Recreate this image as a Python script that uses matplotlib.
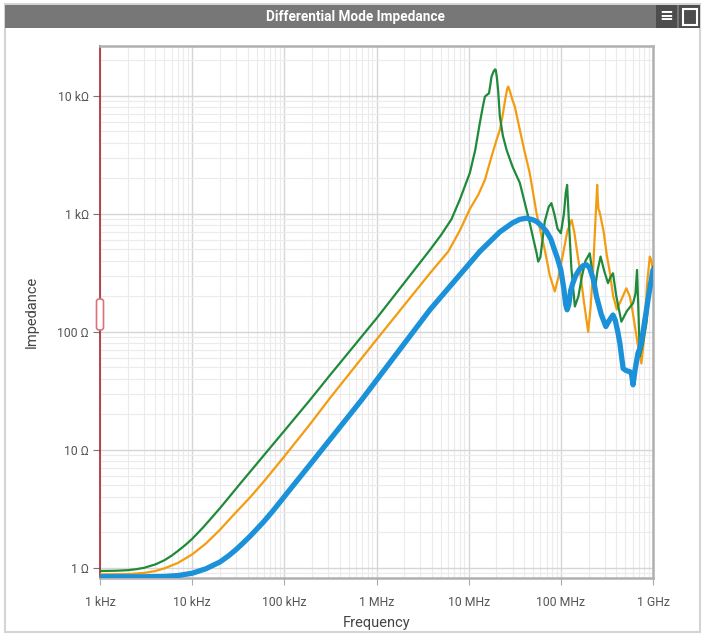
import matplotlib
matplotlib.use("Agg")
import matplotlib.pyplot as plt
from matplotlib.patches import Rectangle, FancyBboxPatch
from matplotlib.ticker import FixedLocator, LogLocator, NullFormatter

plt.rcParams["font.family"] = ["Roboto", "DejaVu Sans"]

title = "Differential Mode Impedance"
freq_ticks = [1e3, 1e4, 1e5, 1e6, 1e7, 1e8, 1e9]
freq_labels = ["1 kHz", "10 kHz", "100 kHz", "1 MHz", "10 MHz", "100 MHz", "1 GHz"]
imp_ticks = [1, 10, 100, 1000, 10000]
imp_labels = ["1 \u03a9", "10 \u03a9", "100 \u03a9", "1 k\u03a9", "10 k\u03a9"]

# values (Hz, ohm)
green_f = [1e3, 1.5e3, 2e3, 2.5e3, 3e3, 4e3, 5e3, 6e3, 7e3, 8.5e3, 1e4, 1.3e4, 1.6e4,
           2e4, 2.5e4, 3.2e4, 4.24e4, 6e4, 1e5, 1.9e5, 3.13e5, 1e6, 3.8e6, 5e6, 6.5e6,
           8e6, 10.3e6, 11.8e6, 13.2e6, 14.2e6, 15.0e6, 16.0e6, 16.6e6, 17.2e6, 17.7e6,
           18.7e6, 19.3e6, 19.7e6, 20.3e6, 20.9e6, 21.8e6, 23.5e6, 25.8e6, 30e6, 35.9e6,
           45e6, 54.5e6, 56.8e6, 60e6, 67e6, 74e6, 79e6, 85e6, 92e6, 100e6, 108e6,
           113e6, 117e6, 122e6, 130e6, 142e6, 155e6, 170e6, 185e6, 206e6, 220e6, 234e6,
           250e6, 270e6, 295e6, 325e6, 345e6, 368e6, 400e6, 454e6, 520e6, 607e6, 645e6,
           671e6, 695e6, 719e6, 780e6, 849e6, 920e6, 1e9]
green_z = [0.94, 0.945, 0.955, 0.975, 1.0, 1.07, 1.16, 1.27, 1.39, 1.57, 1.76, 2.18, 2.62,
           3.2, 3.95, 5.0, 6.5, 9.0, 14.5, 26.5, 43.0, 130, 495, 660, 900,
           1315, 2225, 3500, 5870, 8000, 9860, 10300, 10500, 12500, 14600,
           16200, 16800, 16600, 14000, 11000, 6680, 4600, 3480, 2500, 1832,
           900, 467, 394, 430, 867, 1150, 1233, 1000, 750, 686, 1000,
           1500, 1762, 900, 350, 164, 200, 300, 400, 464, 320, 227,
           330, 435, 330, 259, 290, 314, 200, 122, 150, 175, 210,
           335, 150, 62, 80, 119, 220, 357]

orange_f = [1e3, 2e3, 3e3, 4e3, 5e3, 7e3, 1e4, 1.4e4, 2e4, 2.8e4, 4.24e4, 6e4, 1e5,
            1.9e5, 3.13e5, 1e6, 3.8e6, 6e6, 8e6, 10.3e6, 12.7e6, 15e6, 17.7e6, 20e6,
            21.8e6, 23.5e6, 25e6, 26.2e6, 26.9e6, 28e6, 29.5e6, 31.7e6, 35.9e6, 40e6,
            46e6, 54.5e6, 60e6, 67e6, 76e6, 86e6, 95e6, 106e6, 118e6, 131e6, 140e6,
            150e6, 161e6, 178e6, 198e6, 210e6, 224e6, 236e6, 248e6, 252e6, 256e6,
            262e6, 270e6, 292e6, 315e6, 340e6, 370e6, 405e6, 450e6, 514e6, 560e6,
            600e6, 680e6, 749e6, 800e6, 860e6, 923e6, 960e6, 1e9]
orange_z = [0.88, 0.885, 0.905, 0.94, 0.99, 1.1, 1.3, 1.6, 2.1, 2.8, 3.95, 5.4, 8.8,
            16.5, 27.5, 86, 314, 480, 720, 1100, 1450, 1941, 3060, 4200,
            5150, 7000, 9500, 11500, 12000, 11000, 9500, 8110, 5150, 3500,
            2213, 1014, 720, 495, 300, 220, 300, 464, 720, 889, 700,
            480, 335, 180, 100, 160, 335, 800, 1762, 1300, 1100,
            1050, 950, 700, 450, 320, 200, 155, 185, 234, 200,
            150, 80, 54, 90, 250, 435, 400, 335]

blue_f = [1e3, 3e3, 5e3, 7e3, 1e4, 1.4e4, 2e4, 2.5e4, 3e4, 3.5e4, 4.24e4, 5e4, 6e4,
          7.5e4, 8.95e4, 1.2e5, 1.9e5, 6.89e5, 3.8e6, 13.2e6, 21.8e6, 30e6, 36e6,
          42.5e6, 50e6, 55e6, 62e6, 70e6, 78e6, 85e6, 92e6, 100e6, 108e6, 113e6,
          117e6, 122e6, 128e6, 135e6, 145e6, 160e6, 175e6, 190e6, 205e6, 225e6,
          244e6, 275e6, 308e6, 335e6, 368e6, 390e6, 415e6, 437e6, 474e6, 510e6,
          560e6, 585e6, 607e6, 640e6, 687e6, 719e6, 780e6, 849e6, 920e6, 1e9]
blue_z = [0.84, 0.84, 0.845, 0.86, 0.9, 0.98, 1.12, 1.27, 1.43, 1.6, 1.85, 2.12, 2.47,
          3.03, 3.6, 4.8, 7.5, 26.5, 154, 480, 704, 840, 900,
          920, 890, 860, 790, 708, 610, 500, 420, 335, 230, 170,
          154, 170, 225, 259, 300, 340, 365, 370, 350, 280,
          199, 140, 111, 125, 139, 125, 100, 80, 49, 47,
          46, 44, 35.6, 48, 66, 72, 100, 154, 230, 335]

fig = plt.figure(figsize=(7.05, 6.34), dpi=100)
W, H = 705.0, 634.0

# card frame and header
fig.add_artist(Rectangle((5 / W, 2 / H), 695 / W, 628 / H, transform=fig.transFigure,
                         fill=False, edgecolor="#d4d4d4", lw=1.5, zorder=0))
fig.add_artist(Rectangle((5 / W, 1 - 28 / H), 695 / W, 23 / H, transform=fig.transFigure,
                         facecolor="#777777", edgecolor="none", zorder=1))
fig.text(355 / W, 1 - 16.5 / H, title, color="white", fontsize=9.8, fontweight="bold",
         ha="center", va="center")
fig.add_artist(Rectangle((656 / W, 1 - 28 / H), 21 / W, 23 / H, transform=fig.transFigure,
                         facecolor="#4d4d4d", edgecolor="none", zorder=2))
fig.add_artist(Rectangle((679 / W, 1 - 28 / H), 21 / W, 23 / H, transform=fig.transFigure,
                         facecolor="#4d4d4d", edgecolor="none", zorder=2))
fig.text(666.5 / W, 1 - 16.5 / H, "\u2261", color="white", fontsize=12, fontweight="bold",
         ha="center", va="center", family="DejaVu Sans")
fig.add_artist(Rectangle((683 / W, 1 - 25 / H), 14 / W, 16 / H, transform=fig.transFigure,
                         fill=False, edgecolor="white", lw=1.5, zorder=3))

ax = fig.add_axes([100 / W, 56 / H, 553 / W, 532 / H])
ax.set_xscale("log")
ax.set_yscale("log")

ax.plot(orange_f, orange_z, color="#f39c12", lw=1.6, zorder=3, solid_joinstyle="round")
ax.plot(green_f, green_z, color="#1f8a3b", lw=1.6, zorder=4, solid_joinstyle="round")
ax.plot(blue_f, blue_z, color="#1b91d9", lw=3.8, zorder=5, solid_capstyle="round",
        solid_joinstyle="round")

ax.set_xlim(1e3, 1e9)
ax.set_ylim(0.82, 26500)

ax.xaxis.set_major_locator(FixedLocator(freq_ticks))
ax.set_xticklabels(freq_labels)
ax.yaxis.set_major_locator(FixedLocator(imp_ticks))
ax.set_yticklabels(imp_labels)
ax.xaxis.set_minor_locator(LogLocator(base=10, subs=range(2, 10), numticks=20))
ax.yaxis.set_minor_locator(LogLocator(base=10, subs=range(2, 10), numticks=20))
ax.xaxis.set_minor_formatter(NullFormatter())
ax.yaxis.set_minor_formatter(NullFormatter())

ax.grid(which="major", color="#d6d6d6", lw=1.0)
ax.grid(which="minor", color="#ebebeb", lw=0.8)
ax.set_axisbelow(True)

ax.tick_params(axis="both", which="minor", length=0)
ax.tick_params(axis="y", which="major", length=5, color="#777777", labelsize=8.8,
               labelcolor="#555555", pad=3)
ax.tick_params(axis="x", which="major", length=5, color="#aaaaaa", labelsize=8.8,
               labelcolor="#555555", pad=8)

for side in ["top", "right", "bottom"]:
    ax.spines[side].set_color("#b0b0b0")
    ax.spines[side].set_linewidth(1.8)
ax.spines["left"].set_color("#a8282c")
ax.spines["left"].set_linewidth(1.2)

ax.set_xlabel("Frequency", fontsize=10.5, color="#444444", labelpad=5)
ax.set_ylabel("Impedance", fontsize=10.5, color="#444444", labelpad=13)

# range handle on the left axis
fig.add_artist(FancyBboxPatch((96.5 / W, (H - 330) / H), 7 / W, 31 / H,
                              boxstyle="round,pad=0,rounding_size=0.004",
                              transform=fig.transFigure, facecolor="white",
                              edgecolor="#d9737a", lw=1.2, zorder=10))

fig.savefig("out.png", dpi=100)
